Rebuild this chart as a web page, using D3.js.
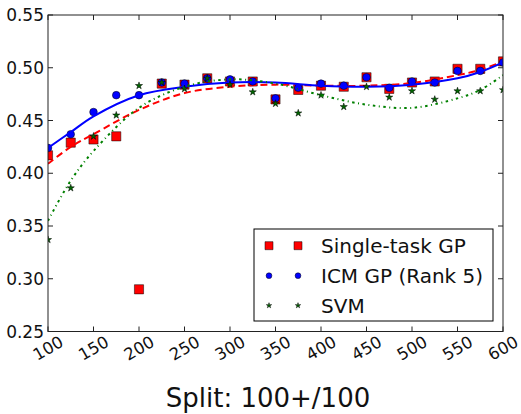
<!DOCTYPE html>
<html>
<head>
<meta charset="utf-8">
<script src="https://cdn.jsdelivr.net/npm/d3@7"></script>
<style>
body { margin: 0; background: #fff; }
svg { display: block; font-family: "DejaVu Sans", sans-serif; }
</style>
</head>
<body>
<svg id="chart" width="521" height="414"></svg>
<script>
// values
const splits = [100, 125, 150, 175, 200, 225, 250, 275, 300, 325, 350,
	375, 400, 425, 450, 475, 500, 525, 550, 575, 600];
const singleTask = [0.417, 0.429, 0.432, 0.435, 0.290, 0.485, 0.484, 0.490, 0.487, 0.487, 0.470,
	0.479, 0.483, 0.482, 0.491, 0.480, 0.486, 0.487, 0.499, 0.499, 0.506];
const icmGP = [0.424, 0.437, 0.458, 0.474, 0.474, 0.486, 0.485, 0.490, 0.489, 0.487, 0.471,
	0.481, 0.485, 0.483, 0.491, 0.481, 0.487, 0.486, 0.497, 0.497, 0.505];
const svm = [0.337, 0.386, 0.435, 0.455, 0.483, 0.486, 0.480, 0.490, 0.484, 0.477, 0.466,
	0.457, 0.474, 0.463, 0.482, 0.472, 0.478, 0.470, 0.478, 0.478, 0.479];

// trend curves
const fitX = [100, 125, 150, 200, 250, 300, 350, 400, 450, 500, 550, 575, 600];
const singleFit = [0.409, 0.425, 0.437, 0.460, 0.476, 0.482, 0.484, 0.483, 0.483, 0.4855, 0.493, 0.498, 0.506];
const icmFit = [0.424, 0.439, 0.454, 0.474, 0.482, 0.486, 0.486, 0.483, 0.482, 0.484, 0.490, 0.496, 0.505];
const svmFit = [0.355, 0.393, 0.421, 0.462, 0.482, 0.489, 0.485, 0.474, 0.465, 0.462, 0.471, 0.479, 0.493];

const xTicks = [100, 150, 200, 250, 300, 350, 400, 450, 500, 550, 600];
const yTicks = [0.25, 0.30, 0.35, 0.40, 0.45, 0.50, 0.55];
const seriesNames = ["Single-task GP", "ICM GP (Rank 5)", "SVM"];
const xLabel = "Split: 100+/100";

const L = 48, R = 503, T = 15, B = 331.5;
const x = d3.scaleLinear().domain([100, 600]).range([L, R]);
const y = d3.scaleLinear().domain([0.25, 0.55]).range([B, T]);

const svg = d3.select("#chart");

svg.append("clipPath").attr("id", "clip")
	.append("rect").attr("x", L).attr("y", T).attr("width", R - L).attr("height", B - T);

const plot = svg.append("g").attr("clip-path", "url(#clip)");

const line = d3.line().curve(d3.curveCatmullRom.alpha(0.5));

function fitPath(vals) {
	return line(fitX.map((v, i) => [x(v), y(vals[i])]));
}

const sq = d3.symbol().type(d3.symbolSquare);
const circ = d3.symbol().type(d3.symbolCircle);
const star = d3.symbol().type(d3.symbolStar);

// single-task GP
plot.append("g").selectAll("path").data(singleTask).enter().append("path")
	.attr("transform", (d, i) => `translate(${x(splits[i])},${y(d)})`)
	.attr("d", sq.size(84)())
	.attr("fill", "#ff0000")
	.attr("stroke", "#000").attr("stroke-width", 0.5);
plot.append("path").attr("d", fitPath(singleFit))
	.attr("fill", "none").attr("stroke", "#ff0000").attr("stroke-width", 2)
	.attr("stroke-dasharray", "7,4");

// ICM GP
plot.append("g").selectAll("path").data(icmGP).enter().append("path")
	.attr("transform", (d, i) => `translate(${x(splits[i])},${y(d)})`)
	.attr("d", circ.size(46)())
	.attr("fill", "#0000ff")
	.attr("stroke", "#000").attr("stroke-width", 0.5);
plot.append("path").attr("d", fitPath(icmFit))
	.attr("fill", "none").attr("stroke", "#0000ff").attr("stroke-width", 2);

// SVM
plot.append("g").selectAll("path").data(svm).enter().append("path")
	.attr("transform", (d, i) => `translate(${x(splits[i])},${y(d)})`)
	.attr("d", star.size(16)())
	.attr("fill", "#006400")
	.attr("stroke", "#000").attr("stroke-width", 0.5);
plot.append("path").attr("d", fitPath(svmFit))
	.attr("fill", "none").attr("stroke", "#008000").attr("stroke-width", 2)
	.attr("stroke-dasharray", "2.5,3.5,1,3.5");

// frame and ticks (inward, all four sides)
const tk = 5;
const ax = svg.append("g").attr("stroke", "#222").attr("stroke-width", 1);
ax.append("rect").attr("x", L).attr("y", T).attr("width", R - L).attr("height", B - T).attr("fill", "none");
xTicks.forEach(t => {
	ax.append("line").attr("x1", x(t)).attr("x2", x(t)).attr("y1", B).attr("y2", B - tk);
	ax.append("line").attr("x1", x(t)).attr("x2", x(t)).attr("y1", T).attr("y2", T + tk);
});
yTicks.forEach(t => {
	ax.append("line").attr("x1", L).attr("x2", L + tk).attr("y1", y(t)).attr("y2", y(t));
	ax.append("line").attr("x1", R).attr("x2", R - tk).attr("y1", y(t)).attr("y2", y(t));
});

svg.append("g").selectAll("text").data(yTicks).enter().append("text")
	.attr("x", L - 4).attr("y", d => y(d)).attr("dy", "0.36em")
	.attr("text-anchor", "end").attr("font-size", 17).attr("fill", "#111")
	.text(d => d3.format(".2f")(d));

svg.append("g").selectAll("text").data(xTicks).enter().append("text")
	.attr("transform", d => `translate(${x(d)},348) rotate(-30)`)
	.attr("dy", "0.36em")
	.attr("text-anchor", "middle").attr("font-size", 16.5).attr("fill", "#111")
	.text(d => d);

svg.append("text").attr("x", 268).attr("y", 407)
	.attr("text-anchor", "middle").attr("font-size", 26).attr("fill", "#111")
	.text(xLabel);

// legend
const lg = svg.append("g");
lg.append("rect").attr("x", 254).attr("y", 229).attr("width", 239).attr("height", 92)
	.attr("fill", "#fff").attr("stroke", "#000").attr("stroke-width", 1);
const rowY = [245.7, 275.7, 305.5];
const legendMarks = [
	{ sym: sq.size(64)(), fill: "#ff0000" },
	{ sym: circ.size(26)(), fill: "#0000ff" },
	{ sym: star.size(9)(), fill: "#006400" }
];
seriesNames.forEach((name, i) => {
	[269, 298].forEach(mx => {
		lg.append("path").attr("transform", `translate(${mx},${rowY[i]})`)
			.attr("d", legendMarks[i].sym).attr("fill", legendMarks[i].fill)
			.attr("stroke", "#000").attr("stroke-width", 0.5);
	});
	lg.append("text").attr("x", 321).attr("y", rowY[i]).attr("dy", "0.36em")
		.attr("font-size", 20).attr("fill", "#111").text(name);
});
</script>
</body>
</html>
